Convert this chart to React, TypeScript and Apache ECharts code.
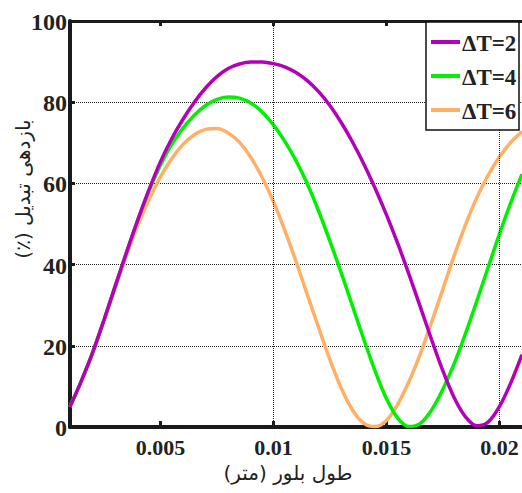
import React, { useEffect, useRef } from "react";
import * as echarts from "echarts";

const xTicks = [0.005, 0.01, 0.015, 0.02];
const yTicks = [0, 20, 40, 60, 80, 100];
const seriesNames = ["ΔT=2", "ΔT=4", "ΔT=6"];
const seriesColors = ["#b400b8", "#00f000", "#ffb066"];

const xValues = [
  0.001, 0.0015, 0.002, 0.0025, 0.003, 0.0035, 0.004, 0.0045, 0.005, 0.0055,
  0.006, 0.0065, 0.007, 0.0075, 0.008, 0.0085, 0.009, 0.0095, 0.01, 0.0105,
  0.011, 0.0115, 0.012, 0.0125, 0.013, 0.0135, 0.014, 0.0145, 0.015, 0.0155,
  0.016, 0.0165, 0.017, 0.0175, 0.018, 0.0185, 0.019, 0.0195, 0.02, 0.0205,
  0.021,
];
const dt2Values = [
  5, 11.3, 18.3, 26.3, 34.7, 43, 51, 58.5, 65.3, 71,
  75.8, 80, 83.5, 86.3, 88.3, 89.4, 89.9, 89.9, 89.5, 88.7,
  87.3, 85.3, 82.6, 79.2, 75, 70.2, 64.8, 58.8, 52.3, 45.2,
  37.6, 29.6, 21.5, 13.8, 7.2, 2.5, 0.3, 1.2, 5, 10.8,
  17.8,
];
const dt4Values = [
  5, 11.3, 18.3, 26.3, 34.7, 43, 50.9, 58.2, 64.5, 69.6,
  73.6, 76.8, 79.2, 80.7, 81.3, 81, 79.8, 77.6, 74.4, 70.4,
  65.6, 59.9, 53.2, 45.8, 38, 29.8, 21.6, 13.8, 7, 2.2,
  0.1, 0.9, 4.2, 9.3, 15.6, 23, 31, 39.3, 47.5, 55.2,
  62.3,
];
const dt6Values = [
  5, 11.3, 18.2, 26.1, 34.2, 42.2, 49.6, 56.1, 61.6, 66.1,
  69.6, 72, 73.3, 73.5, 72.4, 70.1, 66.4, 61.5, 55.5, 48.5,
  40.8, 32.6, 24.5, 16.6, 9.6, 4.2, 0.9, 0.1, 1.6, 5.6,
  11.2, 18, 25.8, 34, 42.2, 49.8, 56.5, 62, 66.5, 70.1,
  72.8,
];
const seriesValues = [dt2Values, dt4Values, dt6Values];

const xTitle = "\u202Bطول بلور (متر)\u202C";
const yTitle = "\u202Bبازدهی تبدیل (٪)\u202C";

const numFont = "Liberation Serif";
const faFont = "DejaVu Sans";
const ink = "#222";

export default function App() {
  const ref = useRef<HTMLDivElement>(null);
  useEffect(() => {
    if (!ref.current) return;
    const chart = echarts.init(ref.current, undefined, { renderer: "svg" });
    const axisLine = (w: number) => ({
      show: true,
      onZero: false,
      lineStyle: { color: "#1a1a1a", width: w },
    });
    const tick = (len: number, custom?: number[]) => ({
      show: true,
      inside: true,
      length: len,
      ...(custom ? { customValues: custom } : {}),
      lineStyle: { color: "#1a1a1a", width: 3 },
    });
    chart.setOption({
      animation: false,
      backgroundColor: "#fff",
      grid: { left: 70, top: 21, bottom: 66, right: -4.5, containLabel: false },
      xAxis: [
        {
          type: "value",
          position: "bottom",
          min: 0.001,
          max: 0.021,
          axisLine: axisLine(4),
          axisTick: tick(6, xTicks),
          axisLabel: { show: false },
          splitLine: { show: false },
        },
        {
          type: "value",
          position: "top",
          min: 0.001,
          max: 0.021,
          axisLine: axisLine(3),
          axisTick: tick(5, xTicks),
          axisLabel: { show: false },
          splitLine: { show: false },
        },
      ],
      yAxis: {
        type: "value",
        min: 0,
        max: 100,
        interval: 20,
        axisLine: axisLine(4),
        axisTick: tick(5),
        axisLabel: { show: false },
        splitLine: { show: true, lineStyle: { type: "dotted", color: ink, width: 1 } },
      },
      series: [
        {
          type: "line",
          name: "grid",
          data: [],
          silent: true,
          markLine: {
            silent: true,
            symbol: ["none", "none"],
            label: { show: false },
            lineStyle: { type: "dotted", color: ink, width: 1 },
            data: xTicks.map((v) => ({ xAxis: v })),
          },
        },
        ...seriesValues.map((vals, i) => ({
          type: "line",
          name: seriesNames[i],
          data: xValues.map((x, k) => [x, vals[k]]),
          smooth: 0.3,
          showSymbol: false,
          symbol: "none",
          color: seriesColors[i],
          lineStyle: { color: seriesColors[i], width: 3.5 },
          z: 3 + (2 - i),
        })),
      ],
    });

    const toPx = (x: number, y: number) =>
      chart.convertToPixel({ xAxisIndex: 0, yAxisIndex: 0 }, [x, y]) as number[];

    const xLabelEls = xTicks.map((v) => {
      const [px, py] = toPx(v, 0);
      return {
        type: "text",
        x: px,
        y: py + 20,
        z: 10,
        style: {
          text: String(v),
          fill: ink,
          font: `bold 22px ${numFont}`,
          align: "center",
          verticalAlign: "middle",
        },
      };
    });
    const yLabelEls = yTicks.map((v) => {
      const [px, py] = toPx(0.001, v);
      return {
        type: "text",
        x: px - 3,
        y: py + 1,
        z: 10,
        style: {
          text: String(v),
          fill: ink,
          font: `bold 24px ${numFont}`,
          align: "right",
          verticalAlign: "middle",
        },
      };
    });

    // legend box (top-right)
    const lgX = 426;
    const lgY = 22;
    const lgW = 93;
    const lgRow = 34;
    const legendEls: any[] = [
      {
        type: "rect",
        z: 20,
        shape: { x: lgX, y: lgY, width: lgW, height: lgRow * 3 + 6 },
        style: { fill: "#fff", stroke: "#111", lineWidth: 1.5 },
      },
    ];
    seriesNames.forEach((name, i) => {
      const cy = lgY + 20 + i * lgRow;
      legendEls.push({
        type: "line",
        z: 21,
        shape: { x1: lgX + 5, y1: cy, x2: lgX + 34, y2: cy },
        style: { stroke: seriesColors[i], lineWidth: 4 },
      });
      legendEls.push({
        type: "text",
        z: 21,
        x: lgX + 36,
        y: cy + 1,
        style: {
          text: name,
          fill: ink,
          font: `bold 23px ${numFont}`,
          align: "left",
          verticalAlign: "middle",
        },
      });
    });

    chart.setOption({
      graphic: [
        ...xLabelEls,
        ...yLabelEls,
        ...legendEls,
        {
          type: "text",
          x: 288,
          y: 473,
          style: {
            text: xTitle,
            fill: ink,
            font: `20px ${faFont}`,
            align: "center",
            verticalAlign: "middle",
          },
        },
        {
          type: "text",
          x: 23,
          y: 189,
          rotation: Math.PI / 2,
          style: {
            text: yTitle,
            fill: ink,
            font: `20px ${faFont}`,
            align: "center",
            verticalAlign: "middle",
          },
        },
      ],
    });
    return () => chart.dispose();
  }, []);
  return (
    <div
      ref={ref}
      style={{ position: "absolute", left: 0, top: 0, width: 522, height: 493 }}
    />
  );
}
